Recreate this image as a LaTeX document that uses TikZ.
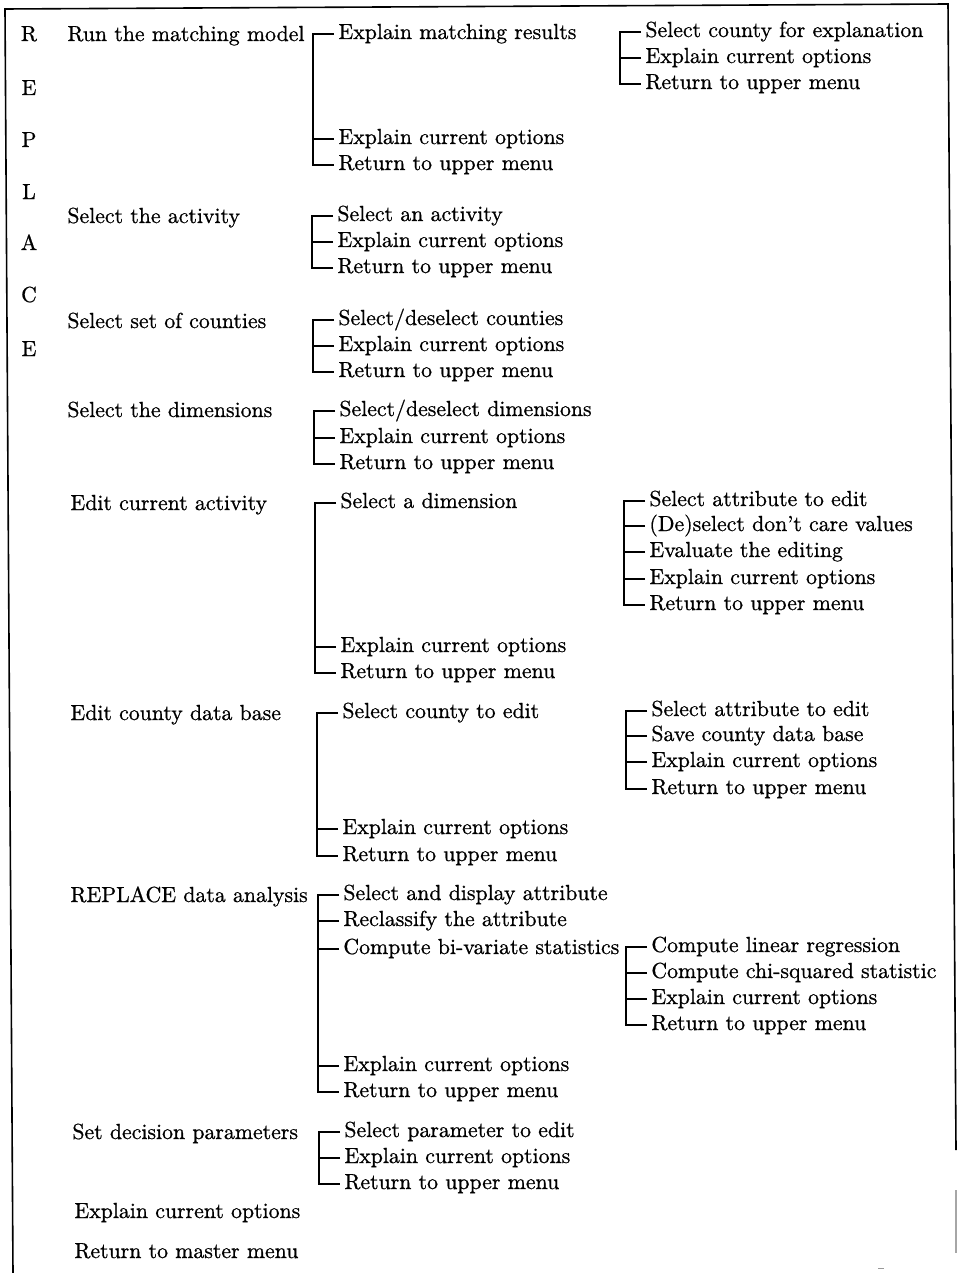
\documentclass[tikz,border=0pt]{standalone}
\usepackage{fontspec}
\usetikzlibrary{calc}
\newfontfamily\menufam[Extension=.otf, Ligatures=TeX, RawFeature={embolden=0.8}]{lmroman10-regular}
\newcommand\menufont{\menufam\fontsize{10.9pt}{13pt}\selectfont}
\tikzset{
  lbl/.style={anchor=base west, inner sep=0pt, font=\menufont},
  letter/.style={anchor=base, inner sep=0pt, font=\menufont},
  br/.style={line width=1pt},
  frame/.style={line width=0.8pt}
}
% bracket joining the items of one submenu: #1 first, #2 last, #3 items between
\newcommand\menubranch[3]{%
  \draw[br] ($(#1.base west)+(-4,-5)$) -- ($(#1.base west)+(-25,-5)$) |- ($(#2.base west)+(-4,-5)$);
  \foreach \m in {#3}{\draw[br] ($(\m.base west)+(-4,-5)$) -- ($(\m.base west)+(-25,-5)$);}
}
\begin{document}
\begin{tikzpicture}[x=0.5pt, y=-0.5pt]
\useasboundingbox (0,0) rectangle (957,1273);
% frame
\draw[frame] (13,1273) -- (5,9) -- (948,4) -- (956,1150);
\draw[frame, black!35] (956,1190) -- (956,1253);
\draw[black!40, line width=0.5pt] (878,1268) -- (884,1268);

\begin{scope}[shift={(0,3)}]
% vertical title
\foreach \ch/\yy [count=\i] in {R/38, E/92, P/144, L/196, A/247, C/299, E/353}
  \node[letter] (t\i) at (29,\yy) {\ch};

% main menu
\node[lbl] (m1) at (67,38) {Run the matching model};
\node[lbl] (m2) at (67,220) {Select the activity};
\node[lbl] (m3) at (67,325) {Select set of counties};
\node[lbl] (m4) at (67,414) {Select the dimensions};
\node[lbl] (m5) at (70,507) {Edit current activity};
\node[lbl] (m6) at (70,717) {Edit county data base};
\node[lbl] (m7) at (70,899) {REPLACE data analysis};
\node[lbl] (m8) at (72,1136) {Set decision parameters};
\node[lbl] (m9) at (74,1215) {Explain current options};
\node[lbl] (m10) at (74,1255) {Return to master menu};

% run the matching model
\node[lbl] (g1a) at (338,36) {Explain matching results};
\node[lbl] (g1b) at (338,141) {Explain current options};
\node[lbl] (g1c) at (338,167) {Return to upper menu};
\menubranch{g1a}{g1c}{g1b}
\node[lbl] (ha) at (645,34) {Select county for explanation};
\node[lbl] (hb) at (645,60) {Explain current options};
\node[lbl] (hc) at (645,86) {Return to upper menu};
\menubranch{ha}{hc}{hb}

% select the activity
\node[lbl] (g2a) at (337,218) {Select an activity};
\node[lbl] (g2b) at (337,244) {Explain current options};
\node[lbl] (g2c) at (337,270) {Return to upper menu};
\menubranch{g2a}{g2c}{g2b}

% select set of counties
\node[lbl] (g3a) at (338,322) {Select/deselect counties};
\node[lbl] (g3b) at (338,348) {Explain current options};
\node[lbl] (g3c) at (338,374) {Return to upper menu};
\menubranch{g3a}{g3c}{g3b}

% select the dimensions
\node[lbl] (g4a) at (339,413) {Select/deselect dimensions};
\node[lbl] (g4b) at (339,440) {Explain current options};
\node[lbl] (g4c) at (339,466) {Return to upper menu};
\menubranch{g4a}{g4c}{g4b}

% edit current activity
\node[lbl] (g5a) at (340,505) {Select a dimension};
\node[lbl] (g5b) at (340,649) {Explain current options};
\node[lbl] (g5c) at (340,675) {Return to upper menu};
\menubranch{g5a}{g5c}{g5b}
\node[lbl] (ka) at (649,503) {Select attribute to edit};
\node[lbl] (kb) at (649,528) {(De)select don’t care values};
\node[lbl] (kc) at (649,554) {Evaluate the editing};
\node[lbl] (kd) at (649,581) {Explain current options};
\node[lbl] (ke) at (649,607) {Return to upper menu};
\menubranch{ka}{ke}{kb,kc,kd}

% edit county data base
\node[lbl] (g6a) at (342,715) {Select county to edit};
\node[lbl] (g6b) at (342,831) {Explain current options};
\node[lbl] (g6c) at (342,858) {Return to upper menu};
\menubranch{g6a}{g6c}{g6b}
\node[lbl] (ca) at (651,713) {Select attribute to edit};
\node[lbl] (cb) at (651,738) {Save county data base};
\node[lbl] (cc) at (651,764) {Explain current options};
\node[lbl] (cd) at (651,791) {Return to upper menu};
\menubranch{ca}{cd}{cb,cc}

% data analysis
\node[lbl] (g7a) at (343,897) {Select and display attribute};
\node[lbl] (g7b) at (343,923) {Reclassify the attribute};
\node[lbl] (g7c) at (343,951) {Compute bi-variate statistics};
\node[lbl] (g7d) at (343,1068) {Explain current options};
\node[lbl] (g7e) at (343,1094) {Return to upper menu};
\menubranch{g7a}{g7e}{g7b,g7c,g7d}
\node[lbl] (sa) at (651,949) {Compute linear regression};
\node[lbl] (sb) at (651,975) {Compute chi-squared statistic};
\node[lbl] (sc) at (651,1001) {Explain current options};
\node[lbl] (sd) at (651,1027) {Return to upper menu};
\menubranch{sa}{sd}{sb,sc}

% decision parameters
\node[lbl] (g8a) at (344,1134) {Select parameter to edit};
\node[lbl] (g8b) at (344,1160) {Explain current options};
\node[lbl] (g8c) at (344,1186) {Return to upper menu};
\menubranch{g8a}{g8c}{g8b}
\end{scope}
\end{tikzpicture}
\end{document}
